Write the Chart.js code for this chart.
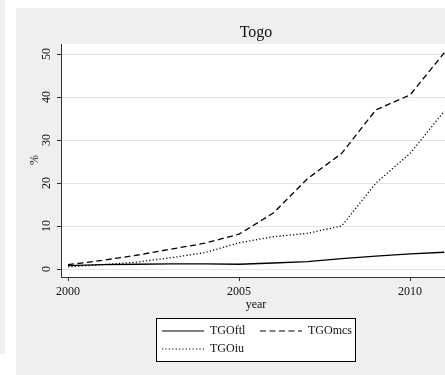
<!DOCTYPE html>
<html>
<head>
<meta charset="utf-8">
<script src="https://cdn.jsdelivr.net/npm/chart.js@4.4.1/dist/chart.umd.min.js"></script>
<style>
html, body { margin: 0; padding: 0; background: #fff; }
#wrap { width: 445px; height: 375px; }
</style>
</head>
<body>
<div id="wrap"><canvas id="togo" width="445" height="375"></canvas></div>
<script>
// values
const years = [2000, 2001, 2002, 2003, 2004, 2005, 2006, 2007, 2008, 2009, 2010, 2011];
const tgoFtl = [0.8, 1.0, 1.1, 1.2, 1.2, 1.1, 1.4, 1.7, 2.4, 3.0, 3.5, 3.9];
const tgoMcs = [1.0, 2.0, 3.2, 4.6, 6.0, 8.1, 13.0, 21.0, 26.9, 37.0, 40.5, 50.3];
const tgoIu = [0.5, 1.0, 1.6, 2.6, 3.8, 6.1, 7.5, 8.3, 10.0, 20.0, 26.9, 36.7];
const xTicks = [2000, 2005, 2010];
const yTicks = [0, 10, 20, 30, 40, 50];

const SERIF = '"Liberation Serif", "DejaVu Serif", serif';

function pairs(vals) {
    return years.map((yr, i) => ({ x: yr, y: vals[i] }));
}

const legendItems = [
    { label: 'TGOftl', dash: [], x: 162, y: 331 },
    { label: 'TGOmcs', dash: [6, 3.5], x: 260, y: 331 },
    { label: 'TGOiu', dash: [1.2, 2.2], x: 162, y: 349 }
];

// gray stata-like background panels
const backdrop = {
    id: 'backdrop',
    beforeDraw(chart) {
        const c = chart.ctx;
        const a = chart.chartArea;
        c.save();
        c.fillStyle = '#ffffff';
        c.fillRect(0, 0, 445, 375);
        c.fillStyle = '#efefef';
        c.fillRect(0, 0, 5, 354);
        c.fillRect(16, 8, 429, 367);
        c.fillStyle = '#ffffff';
        c.fillRect(a.left, a.top, a.right - a.left, a.bottom - a.top);
        c.restore();
    }
};

// title, rotated y labels, axis titles and the boxed legend
const decorations = {
    id: 'decorations',
    afterDraw(chart) {
        const c = chart.ctx;
        const yScale = chart.scales.y;
        c.save();
        c.fillStyle = '#111';
        c.textAlign = 'center';
        c.textBaseline = 'middle';

        c.font = '16px ' + SERIF;
        c.fillText('Togo', 256, 33);

        c.font = '12px ' + SERIF;
        yTicks.forEach(v => {
            c.save();
            c.translate(47, yScale.getPixelForValue(v));
            c.rotate(-Math.PI / 2);
            c.fillText(String(v), 0, 0);
            c.restore();
        });
        c.save();
        c.translate(35, 160);
        c.rotate(-Math.PI / 2);
        c.fillText('%', 0, 0);
        c.restore();

        c.fillText('year', 256, 305);

        // legend box
        c.fillStyle = '#fff';
        c.fillRect(156, 318, 199, 43);
        c.strokeStyle = '#000';
        c.lineWidth = 1;
        c.strokeRect(156.5, 318.5, 199, 43);
        c.textAlign = 'left';
        legendItems.forEach(item => {
            c.beginPath();
            c.setLineDash(item.dash);
            c.lineWidth = 1.2;
            c.moveTo(item.x, item.y);
            c.lineTo(item.x + 42, item.y);
            c.stroke();
            c.setLineDash([]);
            c.fillStyle = '#111';
            c.fillText(item.label, item.x + 48, item.y);
        });
        c.restore();
    }
};

new Chart(document.getElementById('togo'), {
    type: 'line',
    data: {
        datasets: [{
            label: 'TGOftl',
            data: pairs(tgoFtl),
            borderColor: '#000',
            borderWidth: 1.3
        }, {
            label: 'TGOmcs',
            data: pairs(tgoMcs),
            borderColor: '#000',
            borderWidth: 1.3,
            borderDash: [6, 3.5]
        }, {
            label: 'TGOiu',
            data: pairs(tgoIu),
            borderColor: '#000',
            borderWidth: 1.3,
            borderDash: [1.2, 2.2]
        }]
    },
    options: {
        responsive: false,
        animation: false,
        devicePixelRatio: 1,
        layout: { padding: { top: 44, left: 0, right: 0, bottom: 0 } },
        elements: { point: { radius: 0 }, line: { tension: 0 } },
        plugins: {
            legend: { display: false },
            title: { display: false },
            tooltip: { enabled: false }
        },
        scales: {
            x: {
                type: 'linear',
                min: 1999.795,
                max: 2011.02,
                afterBuildTicks: scale => { scale.ticks = xTicks.map(v => ({ value: v })); },
                afterFit: scale => { scale.height = 98; },
                grid: { drawOnChartArea: false, tickLength: 4, tickColor: '#333' },
                border: { color: '#333', width: 1 },
                ticks: {
                    font: { family: SERIF, size: 12 },
                    color: '#111',
                    padding: 4,
                    maxRotation: 0,
                    callback: v => String(v)
                }
            },
            y: {
                type: 'linear',
                min: -1.86,
                max: 52.33,
                afterBuildTicks: scale => { scale.ticks = yTicks.map(v => ({ value: v })); },
                afterFit: scale => { scale.width = 61; },
                grid: { color: '#e4e4e4', lineWidth: 1, tickLength: 4, tickColor: '#333' },
                border: { color: '#333', width: 1 },
                ticks: { display: false }
            }
        }
    },
    plugins: [backdrop, decorations]
});
</script>
</body>
</html>
